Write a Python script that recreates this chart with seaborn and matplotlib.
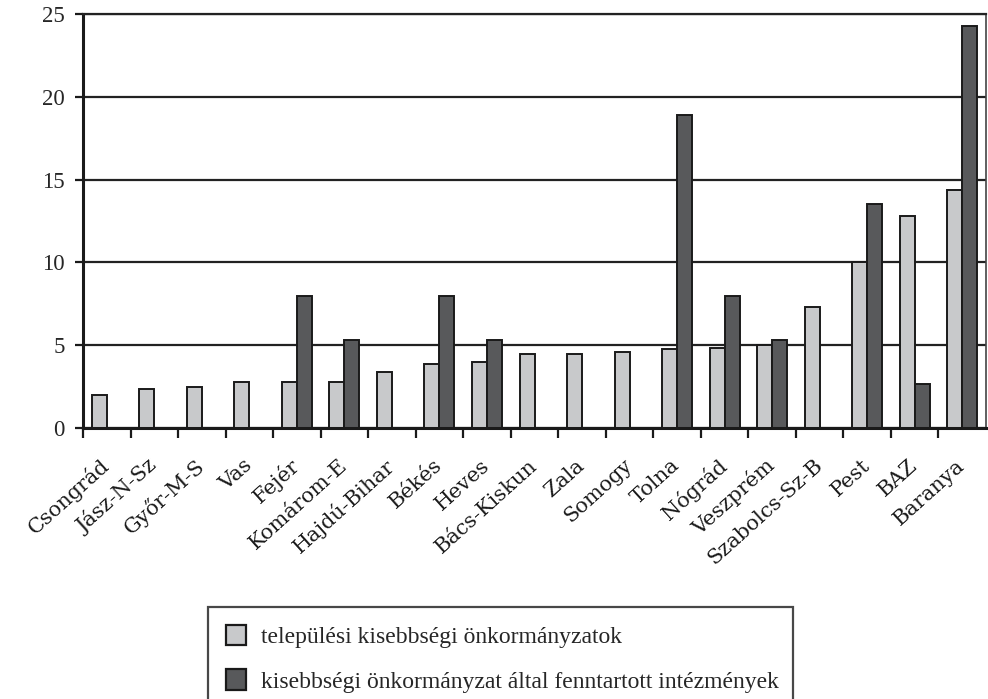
import numpy as np
import pandas as pd
import matplotlib
matplotlib.use("Agg")
import matplotlib.pyplot as plt
from matplotlib.patches import Patch
import seaborn as sns

# ── Data ─────────────────────────────────────────────────────
counties = ["Csongrád", "Jász-N-Sz", "Győr-M-S", "Vas", "Fejér", "Komárom-E",
            "Hajdú-Bihar", "Békés", "Heves", "Bács-Kiskun", "Zala", "Somogy",
            "Tolna", "Nógrád", "Veszprém", "Szabolcs-Sz-B", "Pest", "BAZ", "Baranya"]
telepulesi = [2.0, 2.35, 2.5, 2.8, 2.8, 2.8, 3.4, 3.85, 4.0, 4.45, 4.45, 4.6,
              4.75, 4.85, 5.0, 7.3, 10.0, 12.8, 14.4]
intezmenyek = [np.nan, np.nan, np.nan, np.nan, 8.0, 5.3, np.nan, 8.0, 5.3, np.nan,
               np.nan, np.nan, 18.9, 8.0, 5.3, np.nan, 13.5, 2.65, 24.25]
series_names = ["települési kisebbségi önkormányzatok",
                "kisebbségi önkormányzat által fenntartott intézmények"]
yticks = [0, 5, 10, 15, 20, 25]

light, dark = "#c8c9cb", "#58595b"

df = pd.DataFrame({
    "county": counties * 2,
    "value": telepulesi + intezmenyek,
    "series": [series_names[0]] * len(counties) + [series_names[1]] * len(counties),
})

sns.set_style("white")
plt.rcParams["font.family"] = ["Liberation Serif", "DejaVu Serif"]

fig = plt.figure(figsize=(9.88, 6.99), dpi=100)
ax = fig.add_axes([83 / 988, 1 - 428 / 699, (986 - 83) / 988, (428 - 14) / 699])

# gridlines behind bars
ax.set_axisbelow(True)
ax.yaxis.grid(True, color="#222222", linewidth=1.6)

sns.barplot(data=df, x="county", y="value", hue="series", order=counties,
            hue_order=series_names, palette=[light, dark], width=0.63,
            edgecolor="#1a1a1a", linewidth=1.4, errorbar=None, legend=False, ax=ax)

ax.set_ylim(0, 25)
ax.set_yticks(yticks)
ax.set_xlim(-0.5, len(counties) - 0.5)
ax.set_xlabel("")
ax.set_ylabel("")

# ── Ticks ────────────────────────────────────────────────────
ax.tick_params(axis="y", which="major", direction="out", length=6, width=1.6,
               color="#1a1a1a", labelsize=16.5, pad=7, left=True)
ax.set_xticks(np.arange(len(counties)))
ax.set_xticklabels(counties, rotation=42, ha="right", va="center",
                   rotation_mode="anchor", fontsize=15, family="DejaVu Serif",
                   color="#1a1a1a")
ax.tick_params(axis="x", which="major", length=0, pad=25)
ax.set_xticks(np.arange(len(counties)) - 0.5, minor=True)
ax.tick_params(axis="x", which="minor", direction="out", length=7, width=1.6,
               color="#1a1a1a", bottom=True)

for side in ["left", "bottom"]:
    ax.spines[side].set_linewidth(2.2)
    ax.spines[side].set_color("#1a1a1a")
ax.spines["top"].set_linewidth(1.6)
ax.spines["top"].set_color("#222222")
ax.spines["right"].set_linewidth(1.2)
ax.spines["right"].set_color("#444444")

# ── Legend ───────────────────────────────────────────────────
handles = [Patch(facecolor=light, edgecolor="#1a1a1a", linewidth=1.6),
           Patch(facecolor=dark, edgecolor="#1a1a1a", linewidth=1.6)]
leg = fig.legend(handles, series_names, loc="upper left",
                 bbox_to_anchor=(208 / 988, 1 - 607 / 699, (793 - 208) / 988, 0),
                 mode="expand", borderaxespad=0, fancybox=False, fontsize=17,
                 handlelength=0.85, handleheight=0.95, handletextpad=0.65,
                 borderpad=0.75, labelspacing=0.9, frameon=True)
leg.get_frame().set_edgecolor("#1a1a1a")
leg.get_frame().set_linewidth(1.6)

plt.savefig("out.png", dpi=100)
plt.close()
